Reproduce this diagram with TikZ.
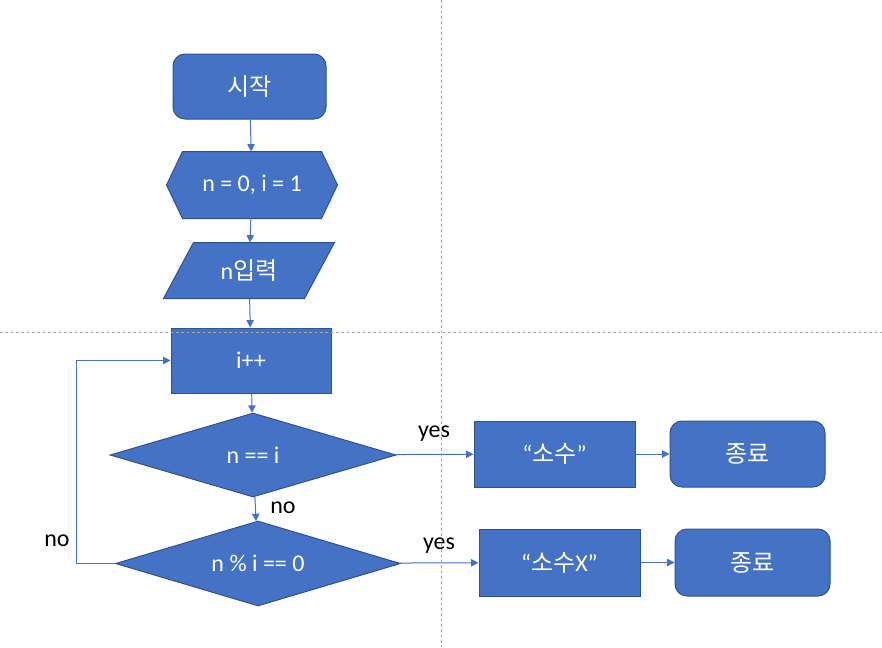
\documentclass[tikz,border=0pt]{standalone}
\usepackage{fontspec}
\setmainfont{Carlito}
\newfontfamily\kr{Noto Sans CJK KR}
\usepackage{tikz}
\usetikzlibrary{shapes.geometric, arrows.meta, backgrounds}

\definecolor{boxblue}{HTML}{4472C4}
\definecolor{boxedge}{HTML}{2F528F}
\definecolor{guide}{HTML}{A6A6A6}

\tikzset{
  base/.style={fill=boxblue, draw=boxedge, line width=0.75pt, text=white,
    font=\fontsize{18}{20}\selectfont, inner sep=0pt},
  term/.style={base, rectangle, rounded corners=9pt, minimum width=116.25pt, minimum height=49.5pt},
  proc/.style={base, rectangle, minimum width=120.75pt, minimum height=49.5pt},
  hidden/.style={base, fill=none, draw=none, rectangle},
  decision/.style={base, diamond, aspect=3.4},
  flow/.style={-{Triangle[length=5.5pt,width=5.5pt]}, boxblue, line width=0.75pt},
  lbl/.style={font=\fontsize{18}{20}\selectfont, inner sep=0pt},
  guideline/.style={guide, line width=0.6pt, dash pattern=on 2pt off 2pt}
}

\begin{document}
\begin{tikzpicture}[x=0.75pt, y=-0.75pt]
    \useasboundingbox (0,0) rectangle (882,647);

    \node[term, minimum width=114.75pt, minimum height=48.75pt] (start) at (249.5,86.5) {\kr 시작};
    \node[hidden, minimum width=127.5pt, minimum height=49.5pt] (init) at (252,185) {n = 0, i = 1};
    \node[hidden, minimum width=127.5pt, minimum height=41.25pt] (input) at (249,270.5) {n{\kr 입력}};
    \node[proc, minimum width=120pt, minimum height=48.75pt] (incr) at (251,360.5) {i++};
    \node[decision, minimum width=214.5pt, minimum height=63pt] (chk1) at (253,455) {n == i};
    \node[decision, minimum width=213.75pt, minimum height=63.75pt] (chk2) at (258,563.5) {n \% i == 0};
    \node[proc] (prime) at (554.5,454) {“{\kr 소수}”};
    \node[term] (end1) at (747.5,454) {\kr 종료};
    \node[proc, minimum height=50.25pt] (notprime) at (559.5,562.5) {“{\kr 소수}X”};
    \node[term, minimum height=50.25pt] (end2) at (752.5,562.5) {\kr 종료};

    % hexagon and parallelogram behind their texts
    \begin{scope}[on background layer]
      \draw[base] ([xshift=12pt]init.north west) -- ([xshift=-12pt]init.north east) -- (init.east)
        -- ([xshift=-12pt]init.south east) -- ([xshift=12pt]init.south west) -- (init.west) -- cycle;
      \draw[base] ([xshift=22.5pt]input.north west) -- (input.north east)
        -- ([xshift=-22.5pt]input.south east) -- (input.south west) -- cycle;
    \end{scope}

    \draw[flow] (start) -- (init);
    \draw[flow] (init) -- (input);
    \draw[flow] (input) -- (incr);
    \draw[flow] (incr) -- (chk1);
    \draw[flow] (chk1) -- (chk2);
    \draw[flow] (chk1) -- (prime);
    \draw[flow] (prime) -- (end1);
    \draw[flow] (chk2) -- (notprime);
    \draw[flow] (notprime) -- (end2);
    \draw[flow] (chk2.west) -- ++(-39,0) |- (incr.west);

    \node[lbl] (yes1) at (434,434) {yes};
    \node[lbl] (no1) at (283,508) {no};
    \node[lbl] (yes2) at (439,546) {yes};
    \node[lbl] (no2) at (57,541) {no};

    % guides
    \draw[guideline] (441,0) -- (441,647);
    \draw[guideline] (0,332) -- (882,332);
\end{tikzpicture}
\end{document}
